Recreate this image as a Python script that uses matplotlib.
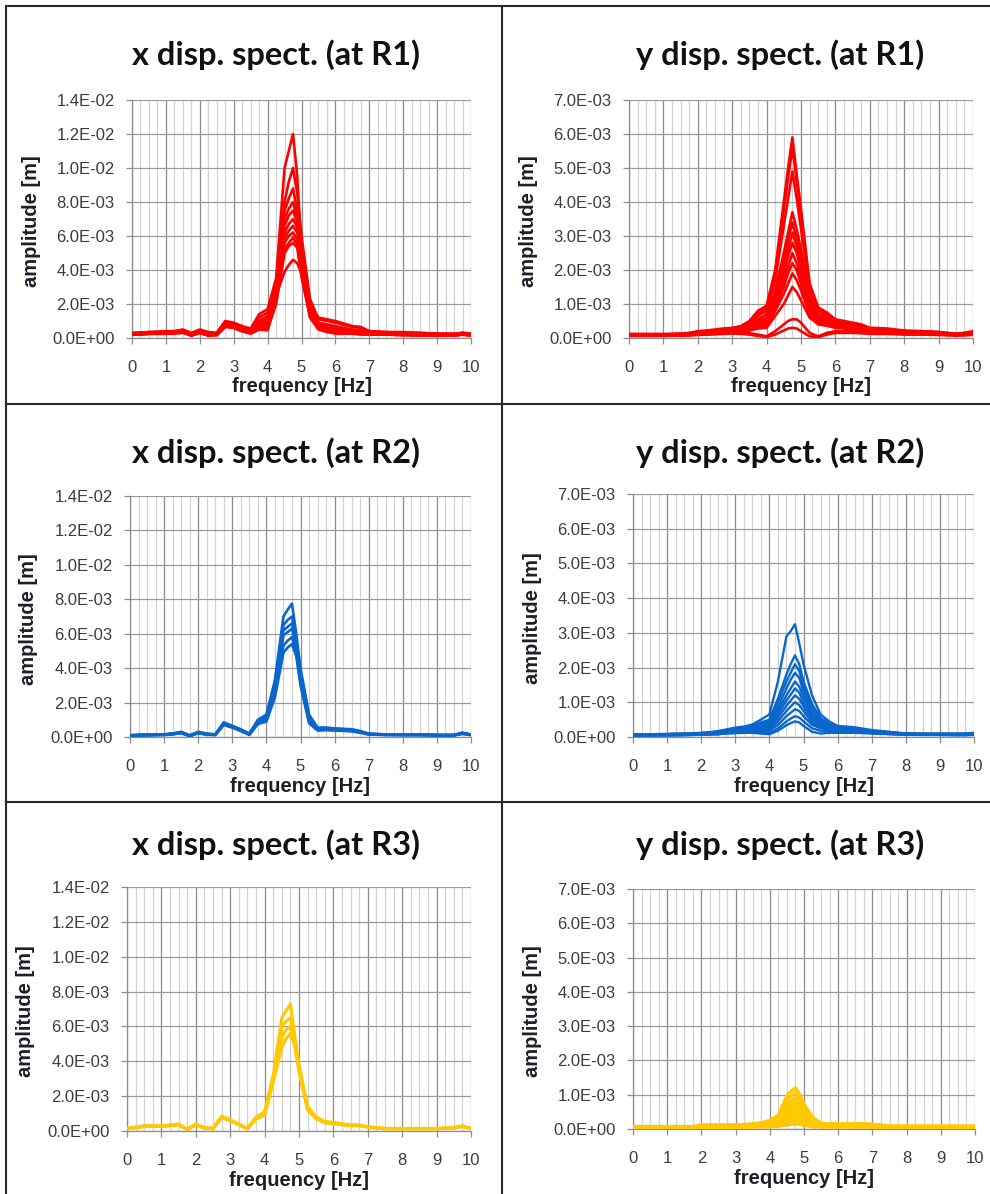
import numpy as np
import matplotlib
matplotlib.use("Agg")
import matplotlib.pyplot as plt
from matplotlib.lines import Line2D
from matplotlib.ticker import MultipleLocator, FuncFormatter

# ---------------- data (amplitudes in units of 1E-03 m) ----------------
FREQ = [0, 0.5, 1, 1.25, 1.5, 1.75, 2, 2.25, 2.5, 2.75, 3, 3.25, 3.5, 3.75, 4,
        4.25, 4.5, 4.625, 4.75, 4.875, 5, 5.25, 5.5, 5.75, 6, 6.5, 6.75, 7,
        7.5, 8, 8.5, 9, 9.5, 9.75, 10]

X_R1 = [
    [0.30, 0.35, 0.40, 0.40, 0.50, 0.30, 0.50, 0.35, 0.30, 1.00, 0.90, 0.70, 0.55, 1.40, 1.70,
     3.50, 10.0, 11.0, 12.0, 9.50, 5.00, 2.00, 1.20, 1.10, 1.00, 0.70, 0.65, 0.40, 0.35, 0.35,
     0.30, 0.25, 0.25, 0.30, 0.25],
    [0.25, 0.35, 0.35, 0.40, 0.45, 0.25, 0.45, 0.30, 0.30, 0.95, 0.85, 0.65, 0.50, 1.20, 1.50,
     3.20, 8.00, 9.20, 10.0, 8.50, 6.00, 2.30, 1.10, 1.00, 0.90, 0.65, 0.60, 0.40, 0.35, 0.30,
     0.30, 0.25, 0.25, 0.30, 0.25],
    [0.30, 0.30, 0.35, 0.35, 0.45, 0.20, 0.40, 0.25, 0.25, 0.90, 0.80, 0.60, 0.45, 1.00, 1.30,
     3.00, 7.50, 8.20, 8.80, 7.50, 5.50, 2.00, 0.90, 0.80, 0.70, 0.50, 0.45, 0.35, 0.30, 0.30,
     0.25, 0.25, 0.20, 0.30, 0.20],
    [0.25, 0.30, 0.35, 0.35, 0.40, 0.20, 0.40, 0.25, 0.25, 0.85, 0.75, 0.55, 0.40, 0.90, 1.10,
     2.80, 7.00, 7.60, 8.00, 7.00, 5.00, 1.80, 0.80, 0.70, 0.60, 0.45, 0.40, 0.30, 0.30, 0.25,
     0.25, 0.20, 0.20, 0.25, 0.20],
    [0.25, 0.30, 0.30, 0.35, 0.40, 0.20, 0.40, 0.25, 0.20, 0.85, 0.70, 0.50, 0.40, 0.85, 1.00,
     2.70, 6.60, 7.20, 7.50, 6.80, 4.80, 1.70, 0.75, 0.65, 0.55, 0.40, 0.40, 0.30, 0.25, 0.25,
     0.25, 0.20, 0.20, 0.25, 0.20],
    [0.20, 0.30, 0.30, 0.30, 0.40, 0.15, 0.35, 0.20, 0.20, 0.80, 0.70, 0.50, 0.35, 0.80, 0.90,
     2.50, 6.20, 6.70, 7.00, 6.50, 4.50, 1.60, 0.70, 0.60, 0.50, 0.40, 0.35, 0.30, 0.25, 0.25,
     0.20, 0.20, 0.20, 0.25, 0.20],
    [0.20, 0.25, 0.30, 0.30, 0.35, 0.15, 0.35, 0.20, 0.20, 0.75, 0.65, 0.45, 0.35, 0.75, 0.80,
     2.30, 5.90, 6.30, 6.60, 6.20, 4.30, 1.50, 0.65, 0.50, 0.45, 0.35, 0.30, 0.25, 0.25, 0.20,
     0.20, 0.15, 0.20, 0.25, 0.20],
    [0.20, 0.25, 0.30, 0.30, 0.35, 0.15, 0.35, 0.20, 0.20, 0.75, 0.65, 0.45, 0.30, 0.70, 0.70,
     2.20, 5.60, 6.00, 6.20, 5.80, 4.00, 1.40, 0.60, 0.45, 0.40, 0.35, 0.30, 0.25, 0.25, 0.20,
     0.20, 0.15, 0.20, 0.25, 0.20],
    [0.20, 0.25, 0.25, 0.30, 0.35, 0.15, 0.30, 0.15, 0.20, 0.70, 0.60, 0.40, 0.30, 0.60, 0.55,
     2.10, 5.20, 5.60, 5.90, 5.50, 3.80, 1.30, 0.55, 0.40, 0.35, 0.30, 0.25, 0.20, 0.20, 0.20,
     0.15, 0.15, 0.15, 0.20, 0.15],
    [0.20, 0.25, 0.25, 0.30, 0.35, 0.15, 0.30, 0.15, 0.20, 0.70, 0.60, 0.40, 0.30, 0.55, 0.50,
     2.00, 5.00, 5.40, 5.60, 5.30, 3.60, 1.20, 0.50, 0.35, 0.30, 0.30, 0.25, 0.20, 0.20, 0.20,
     0.15, 0.15, 0.15, 0.20, 0.15],
    [0.20, 0.25, 0.25, 0.25, 0.30, 0.15, 0.30, 0.15, 0.15, 0.65, 0.60, 0.40, 0.25, 0.50, 0.45,
     2.50, 3.90, 4.30, 4.60, 4.40, 3.80, 1.80, 0.70, 0.40, 0.25, 0.25, 0.20, 0.20, 0.20, 0.15,
     0.15, 0.15, 0.15, 0.20, 0.15],
]

Y_R1 = [
    [0.12, 0.12, 0.12, 0.12, 0.13, 0.15, 0.20, 0.22, 0.25, 0.28, 0.30, 0.35, 0.50, 0.80, 0.95,
     2.00, 4.00, 5.00, 5.90, 4.80, 3.80, 1.60, 0.90, 0.75, 0.55, 0.45, 0.40, 0.30, 0.28, 0.22,
     0.20, 0.18, 0.12, 0.15, 0.20],
    [0.10, 0.10, 0.10, 0.12, 0.12, 0.14, 0.18, 0.20, 0.22, 0.25, 0.28, 0.32, 0.45, 0.70, 0.90,
     1.90, 3.80, 4.70, 5.60, 4.60, 3.60, 1.50, 0.85, 0.70, 0.50, 0.42, 0.38, 0.28, 0.25, 0.20,
     0.20, 0.17, 0.12, 0.15, 0.18],
    [0.10, 0.10, 0.10, 0.11, 0.12, 0.13, 0.17, 0.19, 0.21, 0.24, 0.26, 0.30, 0.40, 0.65, 0.80,
     1.70, 3.30, 4.10, 4.90, 4.10, 3.20, 1.40, 0.80, 0.65, 0.50, 0.40, 0.35, 0.27, 0.24, 0.20,
     0.18, 0.16, 0.12, 0.14, 0.17],
    [0.10, 0.10, 0.10, 0.10, 0.11, 0.12, 0.16, 0.18, 0.20, 0.22, 0.25, 0.28, 0.36, 0.55, 0.70,
     1.40, 2.50, 3.10, 3.70, 3.20, 2.60, 1.20, 0.70, 0.60, 0.45, 0.38, 0.33, 0.25, 0.22, 0.18,
     0.17, 0.15, 0.11, 0.13, 0.16],
    [0.09, 0.09, 0.10, 0.10, 0.11, 0.12, 0.15, 0.17, 0.19, 0.21, 0.24, 0.27, 0.34, 0.50, 0.60,
     1.30, 2.30, 2.90, 3.40, 2.90, 2.40, 1.10, 0.65, 0.55, 0.42, 0.36, 0.32, 0.24, 0.21, 0.18,
     0.16, 0.14, 0.11, 0.12, 0.15],
    [0.09, 0.09, 0.09, 0.10, 0.10, 0.11, 0.14, 0.16, 0.18, 0.20, 0.23, 0.26, 0.32, 0.45, 0.55,
     1.20, 2.10, 2.60, 3.10, 2.70, 2.20, 1.00, 0.60, 0.50, 0.40, 0.34, 0.30, 0.23, 0.20, 0.17,
     0.15, 0.14, 0.10, 0.12, 0.15],
    [0.08, 0.08, 0.09, 0.09, 0.10, 0.11, 0.13, 0.15, 0.17, 0.19, 0.22, 0.25, 0.30, 0.42, 0.50,
     1.10, 1.90, 2.40, 2.80, 2.50, 2.00, 0.95, 0.55, 0.48, 0.38, 0.32, 0.28, 0.22, 0.20, 0.16,
     0.15, 0.13, 0.10, 0.12, 0.14],
    [0.08, 0.08, 0.08, 0.09, 0.09, 0.10, 0.12, 0.14, 0.16, 0.18, 0.21, 0.24, 0.28, 0.38, 0.45,
     1.00, 1.70, 2.10, 2.50, 2.20, 1.80, 0.90, 0.50, 0.45, 0.36, 0.30, 0.27, 0.21, 0.19, 0.16,
     0.14, 0.13, 0.10, 0.11, 0.14],
    [0.08, 0.08, 0.08, 0.08, 0.09, 0.10, 0.12, 0.13, 0.15, 0.17, 0.20, 0.22, 0.26, 0.35, 0.40,
     0.90, 1.50, 1.90, 2.20, 2.00, 1.60, 0.80, 0.48, 0.42, 0.34, 0.29, 0.26, 0.20, 0.18, 0.15,
     0.14, 0.12, 0.09, 0.11, 0.13],
    [0.07, 0.07, 0.08, 0.08, 0.08, 0.09, 0.11, 0.12, 0.14, 0.16, 0.19, 0.21, 0.24, 0.32, 0.35,
     0.80, 1.30, 1.60, 1.90, 1.70, 1.40, 0.70, 0.45, 0.40, 0.32, 0.28, 0.25, 0.19, 0.17, 0.15,
     0.13, 0.12, 0.09, 0.11, 0.13],
    [0.07, 0.07, 0.07, 0.08, 0.08, 0.09, 0.10, 0.12, 0.13, 0.15, 0.18, 0.20, 0.22, 0.28, 0.30,
     0.65, 1.00, 1.25, 1.50, 1.35, 1.10, 0.60, 0.40, 0.36, 0.30, 0.26, 0.23, 0.18, 0.16, 0.14,
     0.13, 0.11, 0.09, 0.10, 0.12],
    [0.07, 0.07, 0.07, 0.07, 0.08, 0.08, 0.10, 0.11, 0.12, 0.14, 0.15, 0.15, 0.14, 0.10, 0.05,
     0.20, 0.40, 0.50, 0.55, 0.55, 0.45, 0.15, 0.05, 0.15, 0.20, 0.20, 0.18, 0.15, 0.14, 0.12,
     0.11, 0.10, 0.08, 0.09, 0.10],
    [0.06, 0.06, 0.06, 0.07, 0.07, 0.08, 0.09, 0.10, 0.11, 0.12, 0.13, 0.12, 0.10, 0.06, 0.03,
     0.10, 0.22, 0.28, 0.30, 0.28, 0.20, 0.05, 0.02, 0.10, 0.15, 0.15, 0.14, 0.12, 0.12, 0.10,
     0.10, 0.09, 0.07, 0.08, 0.09],
]

X_R2 = [
    [0.10, 0.15, 0.15, 0.20, 0.30, 0.10, 0.30, 0.20, 0.15, 0.85, 0.65, 0.45, 0.20, 1.00, 1.30,
     3.30, 7.00, 7.40, 7.75, 6.00, 4.00, 1.30, 0.55, 0.55, 0.50, 0.45, 0.35, 0.20, 0.15, 0.15,
     0.15, 0.12, 0.12, 0.25, 0.15],
    [0.10, 0.15, 0.15, 0.20, 0.28, 0.08, 0.28, 0.18, 0.15, 0.80, 0.62, 0.42, 0.18, 0.95, 1.20,
     3.10, 6.50, 6.80, 7.00, 5.70, 3.80, 1.20, 0.50, 0.50, 0.48, 0.42, 0.32, 0.18, 0.15, 0.14,
     0.14, 0.12, 0.12, 0.24, 0.14],
    [0.10, 0.12, 0.15, 0.18, 0.26, 0.08, 0.26, 0.16, 0.14, 0.78, 0.60, 0.40, 0.16, 0.90, 1.10,
     2.90, 6.20, 6.40, 6.60, 5.40, 3.60, 1.10, 0.45, 0.48, 0.45, 0.40, 0.30, 0.17, 0.14, 0.13,
     0.13, 0.11, 0.11, 0.22, 0.13],
    [0.08, 0.12, 0.14, 0.18, 0.25, 0.06, 0.25, 0.15, 0.13, 0.75, 0.58, 0.38, 0.15, 0.85, 1.00,
     2.70, 5.90, 6.10, 6.30, 5.20, 3.40, 1.00, 0.42, 0.45, 0.42, 0.38, 0.28, 0.16, 0.13, 0.12,
     0.12, 0.10, 0.10, 0.20, 0.12],
    [0.08, 0.10, 0.12, 0.16, 0.24, 0.05, 0.24, 0.14, 0.12, 0.72, 0.56, 0.36, 0.14, 0.80, 0.95,
     2.50, 5.30, 5.60, 5.80, 4.90, 3.20, 0.90, 0.40, 0.42, 0.40, 0.35, 0.26, 0.15, 0.12, 0.12,
     0.12, 0.10, 0.10, 0.20, 0.12],
    [0.08, 0.10, 0.12, 0.15, 0.22, 0.05, 0.22, 0.13, 0.12, 0.70, 0.55, 0.35, 0.13, 0.75, 0.90,
     2.30, 4.90, 5.20, 5.40, 4.70, 3.00, 0.80, 0.38, 0.40, 0.38, 0.33, 0.25, 0.14, 0.12, 0.11,
     0.11, 0.09, 0.09, 0.18, 0.11],
]

Y_R2 = [
    [0.08, 0.08, 0.09, 0.10, 0.10, 0.11, 0.12, 0.14, 0.17, 0.22, 0.27, 0.30, 0.36, 0.50, 0.65,
     1.60, 2.90, 3.05, 3.25, 2.70, 2.10, 1.20, 0.65, 0.45, 0.32, 0.28, 0.24, 0.20, 0.15, 0.10,
     0.10, 0.10, 0.10, 0.10, 0.12],
    [0.07, 0.07, 0.08, 0.09, 0.09, 0.10, 0.11, 0.13, 0.15, 0.20, 0.24, 0.27, 0.32, 0.42, 0.50,
     1.10, 1.80, 2.10, 2.35, 2.10, 1.60, 0.95, 0.55, 0.38, 0.28, 0.25, 0.22, 0.18, 0.14, 0.10,
     0.09, 0.09, 0.09, 0.09, 0.11],
    [0.07, 0.07, 0.08, 0.08, 0.09, 0.09, 0.10, 0.12, 0.14, 0.18, 0.22, 0.25, 0.30, 0.38, 0.45,
     1.00, 1.60, 1.85, 2.10, 1.90, 1.45, 0.85, 0.50, 0.35, 0.26, 0.23, 0.20, 0.17, 0.13, 0.10,
     0.09, 0.09, 0.09, 0.09, 0.10],
    [0.06, 0.07, 0.07, 0.08, 0.08, 0.09, 0.10, 0.11, 0.13, 0.17, 0.20, 0.23, 0.27, 0.34, 0.40,
     0.85, 1.40, 1.65, 1.85, 1.70, 1.30, 0.75, 0.45, 0.32, 0.24, 0.21, 0.19, 0.16, 0.12, 0.09,
     0.08, 0.08, 0.08, 0.08, 0.10],
    [0.06, 0.06, 0.07, 0.07, 0.08, 0.08, 0.09, 0.10, 0.12, 0.16, 0.19, 0.21, 0.25, 0.30, 0.35,
     0.75, 1.20, 1.40, 1.60, 1.45, 1.15, 0.65, 0.40, 0.30, 0.22, 0.20, 0.18, 0.15, 0.12, 0.09,
     0.08, 0.08, 0.08, 0.08, 0.09],
    [0.06, 0.06, 0.06, 0.07, 0.07, 0.08, 0.09, 0.10, 0.11, 0.15, 0.18, 0.20, 0.23, 0.27, 0.30,
     0.65, 1.05, 1.22, 1.40, 1.28, 1.00, 0.58, 0.36, 0.28, 0.21, 0.19, 0.17, 0.14, 0.11, 0.08,
     0.08, 0.08, 0.07, 0.08, 0.09],
    [0.05, 0.06, 0.06, 0.06, 0.07, 0.07, 0.08, 0.09, 0.10, 0.14, 0.17, 0.18, 0.21, 0.24, 0.26,
     0.55, 0.90, 1.05, 1.20, 1.10, 0.88, 0.50, 0.33, 0.26, 0.20, 0.18, 0.16, 0.13, 0.10, 0.08,
     0.07, 0.07, 0.07, 0.07, 0.08],
    [0.05, 0.05, 0.06, 0.06, 0.06, 0.07, 0.08, 0.09, 0.10, 0.13, 0.15, 0.17, 0.19, 0.21, 0.22,
     0.45, 0.75, 0.88, 1.00, 0.92, 0.75, 0.42, 0.30, 0.24, 0.18, 0.17, 0.15, 0.12, 0.10, 0.07,
     0.07, 0.07, 0.06, 0.07, 0.08],
    [0.05, 0.05, 0.05, 0.06, 0.06, 0.06, 0.07, 0.08, 0.09, 0.12, 0.14, 0.15, 0.17, 0.18, 0.18,
     0.35, 0.60, 0.70, 0.80, 0.75, 0.60, 0.35, 0.25, 0.22, 0.17, 0.16, 0.14, 0.12, 0.09, 0.07,
     0.07, 0.06, 0.06, 0.06, 0.07],
    [0.04, 0.05, 0.05, 0.05, 0.06, 0.06, 0.07, 0.08, 0.08, 0.11, 0.12, 0.13, 0.14, 0.14, 0.12,
     0.25, 0.45, 0.53, 0.60, 0.56, 0.45, 0.25, 0.18, 0.18, 0.15, 0.14, 0.13, 0.11, 0.09, 0.07,
     0.06, 0.06, 0.06, 0.06, 0.07],
    [0.04, 0.04, 0.05, 0.05, 0.05, 0.06, 0.06, 0.07, 0.08, 0.10, 0.11, 0.12, 0.12, 0.10, 0.08,
     0.18, 0.34, 0.40, 0.45, 0.42, 0.32, 0.15, 0.10, 0.12, 0.12, 0.12, 0.11, 0.10, 0.08, 0.06,
     0.06, 0.06, 0.05, 0.05, 0.06],
]

X_R3 = [
    [0.15, 0.30, 0.30, 0.35, 0.40, 0.10, 0.40, 0.20, 0.15, 0.85, 0.65, 0.40, 0.15, 0.80, 1.10,
     3.20, 6.50, 6.90, 7.30, 5.50, 3.80, 1.40, 0.80, 0.55, 0.50, 0.35, 0.35, 0.25, 0.15, 0.15,
     0.15, 0.15, 0.20, 0.30, 0.15],
    [0.15, 0.28, 0.28, 0.32, 0.38, 0.10, 0.38, 0.18, 0.15, 0.80, 0.62, 0.38, 0.14, 0.75, 1.00,
     3.00, 6.00, 6.30, 6.50, 5.20, 3.60, 1.30, 0.75, 0.50, 0.45, 0.33, 0.33, 0.23, 0.14, 0.14,
     0.14, 0.14, 0.18, 0.28, 0.14],
    [0.13, 0.27, 0.27, 0.31, 0.36, 0.09, 0.36, 0.17, 0.14, 0.78, 0.61, 0.36, 0.13, 0.72, 0.95,
     2.90, 5.40, 5.80, 6.00, 5.10, 3.50, 1.25, 0.72, 0.49, 0.43, 0.31, 0.31, 0.22, 0.13, 0.13,
     0.13, 0.13, 0.17, 0.27, 0.13],
    [0.12, 0.26, 0.26, 0.30, 0.35, 0.08, 0.35, 0.16, 0.13, 0.75, 0.60, 0.35, 0.12, 0.70, 0.90,
     2.80, 4.80, 5.30, 5.60, 4.90, 3.40, 1.20, 0.70, 0.48, 0.42, 0.30, 0.30, 0.22, 0.13, 0.13,
     0.13, 0.13, 0.16, 0.26, 0.13],
]

Y_R3 = [
    [0.07, 0.07, 0.07, 0.07, 0.07, 0.07, 0.12, 0.12, 0.12, 0.12, 0.12, 0.13, 0.15, 0.18, 0.25,
     0.40, 0.97, 1.10, 1.20, 1.00, 0.73, 0.34, 0.17, 0.15, 0.15, 0.15, 0.15, 0.14, 0.08, 0.08,
     0.08, 0.08, 0.08, 0.08, 0.08],
    [0.07, 0.07, 0.07, 0.07, 0.07, 0.07, 0.11, 0.11, 0.11, 0.11, 0.11, 0.12, 0.14, 0.16, 0.22,
     0.36, 0.85, 0.96, 1.05, 0.90, 0.65, 0.30, 0.15, 0.14, 0.14, 0.14, 0.14, 0.13, 0.08, 0.08,
     0.08, 0.08, 0.08, 0.08, 0.08],
    [0.06, 0.06, 0.06, 0.06, 0.06, 0.06, 0.10, 0.10, 0.10, 0.10, 0.10, 0.11, 0.13, 0.15, 0.20,
     0.32, 0.72, 0.82, 0.90, 0.78, 0.56, 0.27, 0.14, 0.13, 0.13, 0.13, 0.13, 0.12, 0.07, 0.07,
     0.07, 0.07, 0.07, 0.07, 0.07],
    [0.06, 0.06, 0.06, 0.06, 0.06, 0.06, 0.09, 0.09, 0.09, 0.09, 0.09, 0.10, 0.12, 0.14, 0.18,
     0.28, 0.62, 0.71, 0.78, 0.68, 0.49, 0.24, 0.12, 0.12, 0.12, 0.12, 0.12, 0.11, 0.07, 0.07,
     0.07, 0.07, 0.07, 0.07, 0.07],
    [0.06, 0.06, 0.06, 0.06, 0.06, 0.06, 0.08, 0.08, 0.08, 0.08, 0.08, 0.09, 0.11, 0.12, 0.16,
     0.25, 0.52, 0.60, 0.66, 0.58, 0.42, 0.21, 0.11, 0.11, 0.11, 0.11, 0.11, 0.10, 0.06, 0.06,
     0.06, 0.06, 0.06, 0.06, 0.06],
    [0.05, 0.05, 0.05, 0.05, 0.05, 0.05, 0.08, 0.08, 0.08, 0.08, 0.08, 0.08, 0.10, 0.11, 0.14,
     0.21, 0.43, 0.50, 0.55, 0.48, 0.35, 0.18, 0.10, 0.10, 0.10, 0.10, 0.10, 0.09, 0.06, 0.06,
     0.06, 0.06, 0.06, 0.06, 0.06],
    [0.05, 0.05, 0.05, 0.05, 0.05, 0.05, 0.07, 0.07, 0.07, 0.07, 0.07, 0.07, 0.09, 0.10, 0.12,
     0.18, 0.35, 0.41, 0.45, 0.40, 0.29, 0.15, 0.09, 0.09, 0.09, 0.09, 0.09, 0.08, 0.05, 0.05,
     0.05, 0.05, 0.05, 0.05, 0.05],
    [0.05, 0.05, 0.05, 0.05, 0.05, 0.05, 0.06, 0.06, 0.06, 0.06, 0.06, 0.06, 0.08, 0.09, 0.10,
     0.15, 0.27, 0.32, 0.35, 0.31, 0.23, 0.12, 0.08, 0.08, 0.08, 0.08, 0.08, 0.07, 0.05, 0.05,
     0.05, 0.05, 0.05, 0.05, 0.05],
    [0.04, 0.04, 0.04, 0.04, 0.04, 0.04, 0.05, 0.05, 0.05, 0.05, 0.05, 0.05, 0.07, 0.08, 0.08,
     0.12, 0.20, 0.23, 0.25, 0.22, 0.17, 0.10, 0.07, 0.07, 0.07, 0.07, 0.07, 0.06, 0.04, 0.04,
     0.04, 0.04, 0.04, 0.04, 0.04],
    [0.04, 0.04, 0.04, 0.04, 0.04, 0.04, 0.05, 0.05, 0.05, 0.05, 0.05, 0.05, 0.06, 0.06, 0.06,
     0.08, 0.12, 0.14, 0.15, 0.14, 0.11, 0.07, 0.06, 0.06, 0.06, 0.06, 0.06, 0.05, 0.04, 0.04,
     0.04, 0.04, 0.04, 0.04, 0.04],
]

TITLES = ["x disp. spect. (at R1)", "y disp. spect. (at R1)",
          "x disp. spect. (at R2)", "y disp. spect. (at R2)",
          "x disp. spect. (at R3)", "y disp. spect. (at R3)"]
SERIES = [X_R1, Y_R1, X_R2, Y_R2, X_R3, Y_R3]
X_LABEL = "frequency [Hz]"
Y_LABEL = "amplitude [m]"

# ---------------- styling / layout ----------------
RED, BLUE, YELLOW = "#ff0000", "#0a66cc", "#ffc800"
COLORS = [RED, RED, BLUE, BLUE, YELLOW, YELLOW]
LINE_W = [1.9, 1.9, 1.9, 1.7, 2.2, 2.4]
YMAX = [14e-3, 7e-3, 14e-3, 7e-3, 14e-3, 7e-3]
YSTEP = [2e-3, 1e-3, 2e-3, 1e-3, 2e-3, 1e-3]
# axes rectangles in pixels: left, top, right, bottom
RECTS = [(132, 100, 471, 338), (629, 100, 973, 338),
         (130, 496, 471, 737), (633, 494, 974, 737),
         (127, 887, 471, 1131), (633, 889, 975, 1129)]
TITLE_POS = [(276, 55), (780, 55), (276, 453), (780, 453), (276, 845), (780, 845)]

W, H = 990, 1194
fig = plt.figure(figsize=(W / 100, H / 100), dpi=100)
fig.patch.set_facecolor("white")

TICK_FONT = "Liberation Sans"
LABEL_COLOR = "#1e1e28"

# table borders
def hline(y, x0, x1):
    fig.add_artist(Line2D([x0 / W, x1 / W], [1 - y / H, 1 - y / H], color="#2a2a2a", lw=1.5))

def vline(x, y0, y1):
    fig.add_artist(Line2D([x / W, x / W], [1 - y0 / H, 1 - y1 / H], color="#2a2a2a", lw=1.5))

hline(6, 6, W)
hline(404, 6, W)
hline(802, 6, W)
vline(6, 6, H)
vline(502, 6, H)

fmt = FuncFormatter(lambda v, pos: "{:.1E}".format(v))

for i in range(6):
    l, t, r, b = RECTS[i]
    ax = fig.add_axes([l / W, 1 - b / H, (r - l) / W, (b - t) / H])
    ax.set_facecolor("white")
    for curve in SERIES[i]:
        ax.plot(FREQ, np.array(curve) * 1e-3, color=COLORS[i], lw=LINE_W[i], zorder=3)
    ax.set_xlim(0, 10)
    ax.set_ylim(0, YMAX[i])
    ax.xaxis.set_major_locator(MultipleLocator(1))
    ax.xaxis.set_minor_locator(MultipleLocator(0.25))
    ax.yaxis.set_major_locator(MultipleLocator(YSTEP[i]))
    ax.yaxis.set_major_formatter(fmt)
    ax.grid(which="minor", axis="x", color="#d2d2d2", lw=0.9, zorder=1)
    ax.grid(which="major", axis="x", color="#8c8c8c", lw=0.9, zorder=1)
    ax.grid(which="major", axis="y", color="#9a9a9a", lw=0.9, zorder=1)
    ax.set_axisbelow(True)
    for s in ("top", "right"):
        ax.spines[s].set_visible(False)
    for s in ("left", "bottom"):
        ax.spines[s].set_color("#8c8c8c")
        ax.spines[s].set_linewidth(0.9)
    ax.tick_params(which="minor", length=0)
    ax.tick_params(axis="x", which="major", length=4.5, width=0.9, color="#8c8c8c",
                   pad=11, labelsize=12, labelcolor="#3c3c3c")
    ax.tick_params(axis="y", which="major", length=4.5, width=0.9, color="#8c8c8c",
                   pad=8, labelsize=12, labelcolor="#3c3c3c")
    for lab in ax.get_xticklabels() + ax.get_yticklabels():
        lab.set_fontfamily(TICK_FONT)
    ax.set_xlabel(X_LABEL, fontsize=14.5, fontweight="bold", family="Liberation Sans",
                  color=LABEL_COLOR)
    ax.set_ylabel(Y_LABEL, fontsize=14.5, fontweight="bold", family="Liberation Sans",
                  color=LABEL_COLOR)
    hpx, wpx = b - t, r - l
    ax.xaxis.label.set_va("center")
    ax.yaxis.label.set_va("center")
    ax.xaxis.set_label_coords(0.5, -49 / hpx)
    ax.yaxis.set_label_coords(-101 / wpx, 0.49)
    tx, ty = TITLE_POS[i]
    fig.text(tx / W, 1 - ty / H, TITLES[i], ha="center", va="center",
             fontsize=23.5, fontweight="bold", family="Lato", color="#111111")

fig.savefig("out.png", dpi=100, facecolor="white")
